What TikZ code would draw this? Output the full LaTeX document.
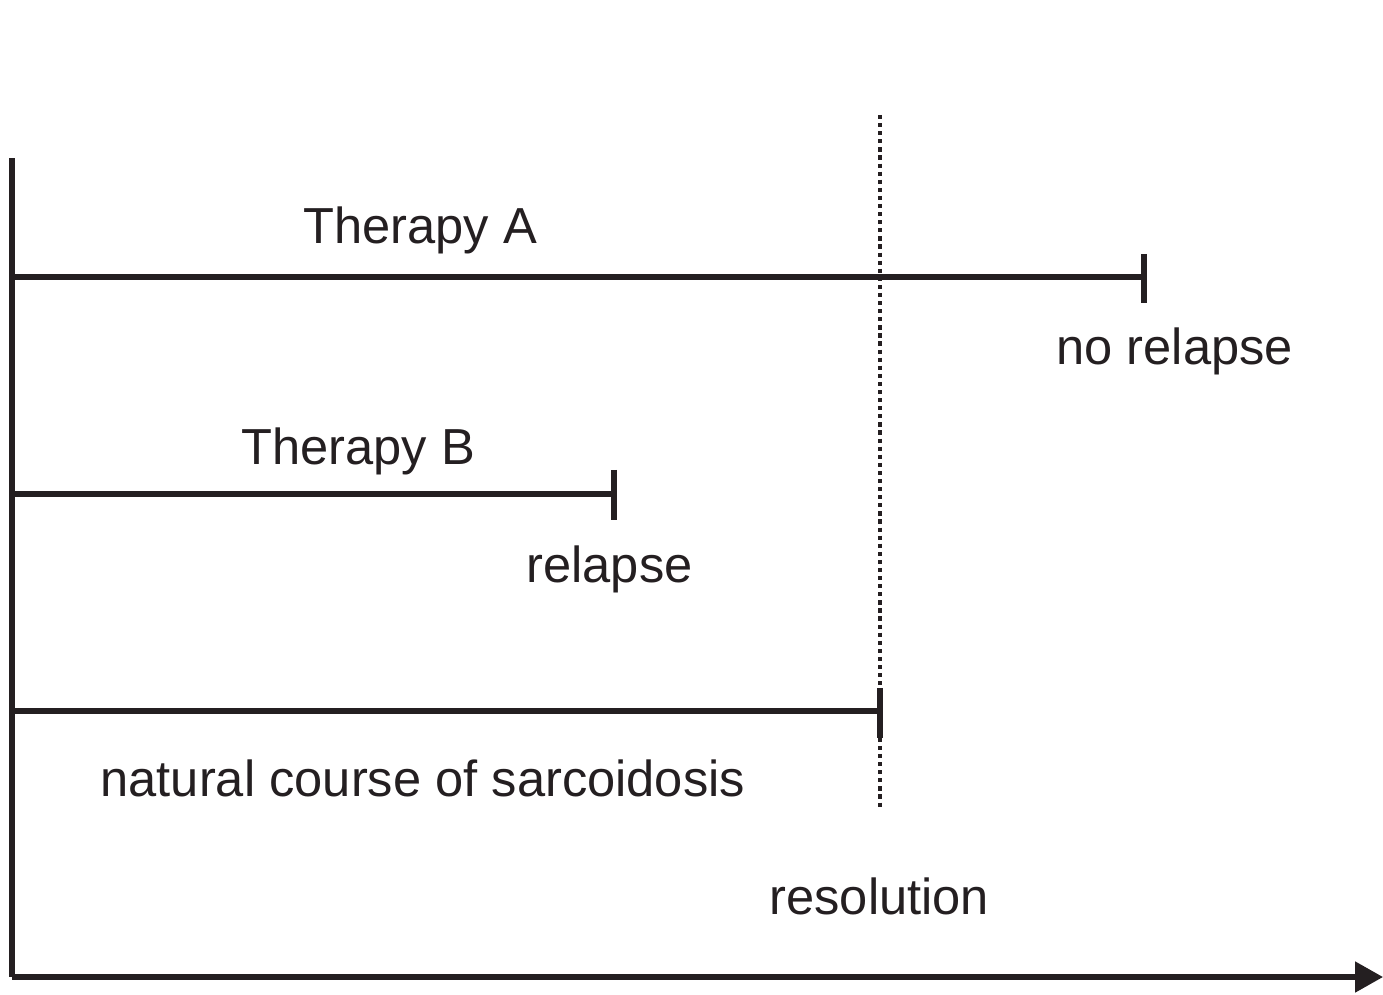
\documentclass[tikz,border=0pt]{standalone}
\usepackage{fontspec}
\setmainfont{Liberation Sans}
\usetikzlibrary{positioning,arrows.meta}
\definecolor{ink}{rgb}{0.14,0.12,0.13}
\begin{document}
\begin{tikzpicture}[x=0.01cm, y=-0.01cm, line width=1.45pt, draw=ink,
    label/.style={anchor=base west, inner sep=0pt, text=ink, font=\fontsize{14.4}{17}\selectfont},
    tick/.style={line width=1.7pt},
    dots/.style={line width=1.4pt, dash pattern=on 1.2pt off 1.1pt}]
  \useasboundingbox (0,0) rectangle (1383,994);

  \coordinate (top) at (12,158);
  \coordinate (O) at (12,977);
  \coordinate (end) at (1383,977);
  \coordinate (A0) at (12,277);
  \coordinate (A) at (1144,277);
  \coordinate (B0) at (12,494);
  \coordinate (B) at (614,494);
  \coordinate (N0) at (12,711);
  \coordinate (N) at (880,711);
  \coordinate (Rtop) at (880,115);
  \coordinate (Rbot) at (880,810);

  % axes
  \draw[line cap=butt] (top) -- (O);
  \draw[-{Triangle[length=0.28cm, width=0.3cm]}] (O) -- (end);

  % resolution line
  \draw[dots] (Rtop) -- (Rbot);

  % therapies
  \draw (A0) -- (A);
  \draw[tick] ([yshift=0.23cm]A) -- ([yshift=-0.26cm]A);
  \draw (B0) -- (B);
  \draw[tick] ([yshift=0.24cm]B) -- ([yshift=-0.26cm]B);
  \draw (N0) -- (N);
  \draw[tick] ([yshift=0.23cm]N) -- ([yshift=-0.27cm]N);

  \node[label] (tA) at (301,243) {Therapy A};
  \node[label] (nr) at (1054,364) {no relapse};
  \node[label] (tB) at (239,464) {Therapy B};
  \node[label] (rl) at (524,582) {relapse};
  \node[label] (nc) at (98,796) {natural course of sarcoidosis};
  \node[label] (rs) at (767,914) {resolution};
\end{tikzpicture}
\end{document}
